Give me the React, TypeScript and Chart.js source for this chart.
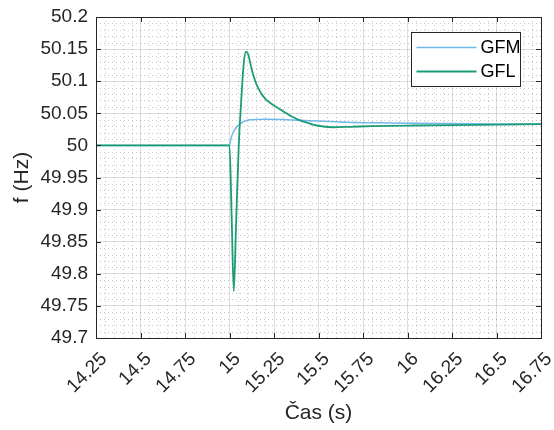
import React, { useEffect, useRef } from 'react';
import { Chart, registerables } from 'chart.js';

Chart.register(...registerables);

const FONT = '"Liberation Sans", Arial, Helvetica, sans-serif';
const INK = '#262626';

// Axis ranges and ticks
const X_MIN = 14.25;
const X_MAX = 16.75;
const X_STEP = 0.25;
const X_MINOR = 0.05;
const Y_MIN = 49.7;
const Y_MAX = 50.2;
const Y_STEP = 0.05;
const Y_MINOR = 0.01;

const X_TITLE = 'Čas (s)';
const Y_TITLE = 'f (Hz)';

const seriesLabels = ['GFM', 'GFL'];
const seriesColors = ['#6fb8ea', '#1a9c78'];

// GFM series (time in s, frequency in Hz)
const gfmTime = [14.25, 15.0, 15.007, 15.014, 15.022, 15.033, 15.045, 15.061, 15.08, 15.098, 15.12, 15.145, 15.2, 15.29, 15.4, 15.5, 15.66, 15.9, 16.2, 16.5, 16.75];
const gfmFreq = [50, 50, 50.009, 50.016, 50.021, 50.026, 50.03, 50.034, 50.037, 50.039, 50.04, 50.0405, 50.0408, 50.0405, 50.039, 50.038, 50.036, 50.035, 50.034, 50.0335, 50.033];

// GFL series
const gflTime = [14.25, 15.0, 15.012, 15.024, 15.037, 15.052, 15.066, 15.08, 15.093, 15.105, 15.117, 15.13, 15.145, 15.16, 15.18, 15.2, 15.22, 15.25, 15.291, 15.32, 15.35, 15.396, 15.44, 15.49, 15.58, 15.68, 15.8, 16.03, 16.4, 16.75];
const gflFreq = [50, 50, 49.89, 49.773, 49.878, 50.0, 50.07, 50.128, 50.146, 50.142, 50.128, 50.113, 50.1, 50.09, 50.08, 50.073, 50.068, 50.062, 50.055, 50.05, 50.045, 50.039, 50.035, 50.031, 50.0283, 50.029, 50.03, 50.031, 50.032, 50.033];

const fmt = (v: number) => String(Number(v.toFixed(2)));

const matlabPlugin = {
  id: 'matlabAxes',
  beforeDatasetsDraw(chart: any) {
    const { ctx, chartArea, scales } = chart;
    const { left, right, top, bottom } = chartArea;
    const xs = scales.x;
    const ys = scales.y;
    ctx.save();
    ctx.strokeStyle = 'rgba(0,0,0,0.22)';
    ctx.lineWidth = 1;
    ctx.setLineDash([1, 3]);
    const nx = Math.round((X_MAX - X_MIN) / X_MINOR);
    for (let i = 1; i < nx; i++) {
      if (i % 5 === 0) continue;
      const px = Math.round(xs.getPixelForValue(X_MIN + i * X_MINOR)) + 0.5;
      ctx.beginPath();
      ctx.moveTo(px, top);
      ctx.lineTo(px, bottom);
      ctx.stroke();
    }
    const ny = Math.round((Y_MAX - Y_MIN) / Y_MINOR);
    for (let i = 1; i < ny; i++) {
      if (i % 5 === 0) continue;
      const py = Math.round(ys.getPixelForValue(Y_MIN + i * Y_MINOR)) + 0.5;
      ctx.beginPath();
      ctx.moveTo(left, py);
      ctx.lineTo(right, py);
      ctx.stroke();
    }
    ctx.restore();
  },
  afterDatasetsDraw(chart: any) {
    const { ctx, chartArea, scales } = chart;
    const { left, right, top, bottom } = chartArea;
    const xs = scales.x;
    const ys = scales.y;
    ctx.save();
    ctx.strokeStyle = INK;
    ctx.lineWidth = 1;
    ctx.setLineDash([]);
    const tl = 5;
    const nx = Math.round((X_MAX - X_MIN) / X_STEP);
    for (let i = 0; i <= nx; i++) {
      const px = Math.round(xs.getPixelForValue(X_MIN + i * X_STEP)) + 0.5;
      ctx.beginPath();
      ctx.moveTo(px, bottom);
      ctx.lineTo(px, bottom - tl);
      ctx.moveTo(px, top);
      ctx.lineTo(px, top + tl);
      ctx.stroke();
    }
    const ny = Math.round((Y_MAX - Y_MIN) / Y_STEP);
    for (let i = 0; i <= ny; i++) {
      const py = Math.round(ys.getPixelForValue(Y_MIN + i * Y_STEP)) + 0.5;
      ctx.beginPath();
      ctx.moveTo(left, py);
      ctx.lineTo(left + tl, py);
      ctx.moveTo(right, py);
      ctx.lineTo(right - tl, py);
      ctx.stroke();
    }
    ctx.strokeRect(Math.round(left) + 0.5, Math.round(top) + 0.5, Math.round(right - left), Math.round(bottom - top));
    ctx.restore();
  },
  afterDraw(chart: any) {
    const { ctx, chartArea } = chart;
    const boxRight = Math.round(chartArea.right - 21) + 0.5;
    const boxTop = Math.round(chartArea.top + 15) + 0.5;
    const boxW = 109;
    const boxH = 54;
    const boxLeft = boxRight - boxW;
    ctx.save();
    ctx.fillStyle = '#ffffff';
    ctx.fillRect(boxLeft, boxTop, boxW, boxH);
    ctx.strokeStyle = INK;
    ctx.lineWidth = 1;
    ctx.strokeRect(boxLeft, boxTop, boxW, boxH);
    ctx.font = `18px ${FONT}`;
    ctx.textBaseline = 'middle';
    ctx.textAlign = 'left';
    const rows = [15, 39];
    seriesLabels.forEach((lab, i) => {
      const cy = boxTop + rows[i];
      ctx.strokeStyle = seriesColors[i];
      ctx.lineWidth = i === 0 ? 1.5 : 2;
      ctx.beginPath();
      ctx.moveTo(boxLeft + 5, cy);
      ctx.lineTo(boxLeft + 65, cy);
      ctx.stroke();
      ctx.fillStyle = '#000000';
      ctx.fillText(lab, boxLeft + 69, cy + 1);
    });
    ctx.restore();
  },
};

const zeroPad = (s: any) => {
  s.paddingLeft = 0;
  s.paddingRight = 0;
  s.paddingTop = 0;
  s.paddingBottom = 0;
};

export default function App() {
  const ref = useRef<HTMLCanvasElement>(null);
  useEffect(() => {
    document.body.style.margin = '0';
    const gfm = gfmTime.map((t, i) => ({ x: t, y: gfmFreq[i] }));
    const gfl = gflTime.map((t, i) => ({ x: t, y: gflFreq[i] }));
    const chart = new Chart(ref.current as HTMLCanvasElement, {
      type: 'line',
      data: {
        datasets: [
          {
            label: seriesLabels[0],
            data: gfm,
            borderColor: seriesColors[0],
            borderWidth: 1.5,
            pointRadius: 0,
            cubicInterpolationMode: 'monotone',
            order: 2,
          },
          {
            label: seriesLabels[1],
            data: gfl,
            borderColor: seriesColors[1],
            borderWidth: 1.8,
            pointRadius: 0,
            cubicInterpolationMode: 'monotone',
            order: 1,
          },
        ],
      },
      options: {
        responsive: false,
        animation: false,
        devicePixelRatio: 1,
        layout: { padding: { top: 17, right: 13, left: 0, bottom: 0 } },
        plugins: { legend: { display: false }, tooltip: { enabled: false } },
        scales: {
          x: {
            type: 'linear',
            min: X_MIN,
            max: X_MAX,
            ticks: {
              stepSize: X_STEP,
              minRotation: 45,
              maxRotation: 45,
              autoSkip: false,
              color: INK,
              padding: 10,
              labelOffset: 8,
              font: { family: FONT, size: 19 },
              callback: (v: any) => fmt(Number(v)),
            },
            grid: { color: 'rgba(0,0,0,0.13)', drawTicks: false, lineWidth: 1 },
            border: { display: true, color: INK, width: 1 },
            title: {
              display: true,
              text: X_TITLE,
              color: INK,
              font: { family: FONT, size: 21 },
              padding: { top: 4, bottom: 4 },
            },
            afterFit: (s: any) => {
              s.height = 92;
              zeroPad(s);
            },
          },
          y: {
            type: 'linear',
            min: Y_MIN,
            max: Y_MAX,
            ticks: {
              stepSize: Y_STEP,
              autoSkip: false,
              color: INK,
              padding: 8,
              font: { family: FONT, size: 19 },
              callback: (v: any) => fmt(Number(v)),
            },
            grid: { color: 'rgba(0,0,0,0.13)', drawTicks: false, lineWidth: 1 },
            border: { display: true, color: INK, width: 1 },
            title: {
              display: true,
              text: Y_TITLE,
              color: INK,
              font: { family: FONT, size: 21 },
              padding: { top: 10, bottom: 0 },
            },
            afterFit: (s: any) => {
              s.width = 96;
              zeroPad(s);
            },
          },
        },
      },
      plugins: [matlabPlugin],
    } as any);
    return () => chart.destroy();
  }, []);
  return (
    <div style={{ width: 554, height: 430 }}>
      <canvas ref={ref} width={554} height={430} style={{ display: 'block' }} />
    </div>
  );
}
